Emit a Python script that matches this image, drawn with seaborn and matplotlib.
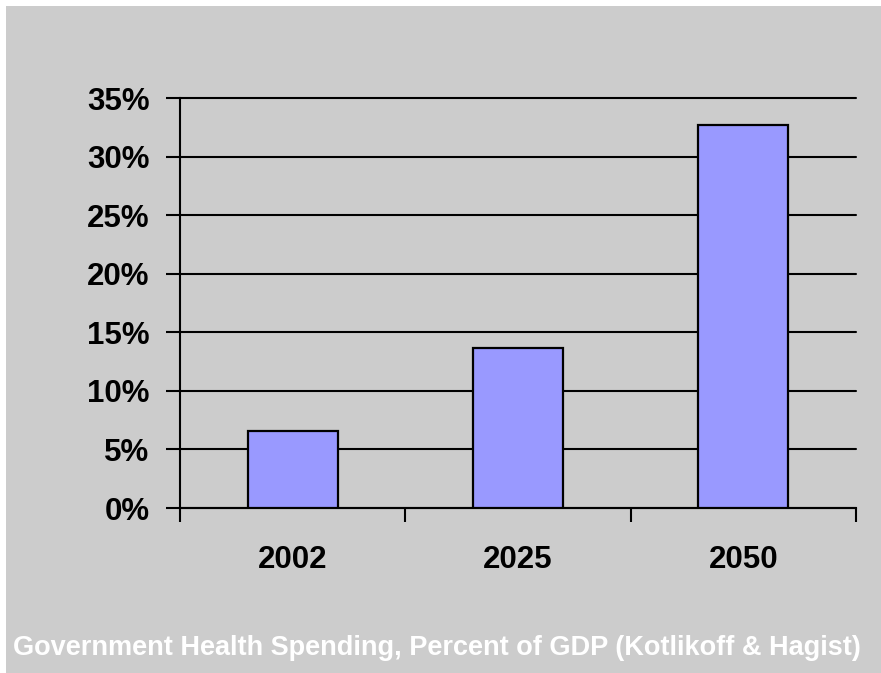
import matplotlib
matplotlib.use("Agg")
import matplotlib.pyplot as plt
from matplotlib.patches import Rectangle
from matplotlib.ticker import FixedLocator, PercentFormatter
import seaborn as sns
import pandas as pd

years = ["2002", "2025", "2050"]
spending_pct = [6.6, 13.7, 32.7]
y_ticks = [0, 5, 10, 15, 20, 25, 30, 35]
title = "Government Health Spending, Percent of GDP (Kotlikoff & Hagist)"

df = pd.DataFrame({"year": years, "pct": spending_pct})

sns.set_theme(style="white")
plt.rcParams["font.family"] = ["Liberation Sans", "DejaVu Sans"]

BG = "#cccccc"
fig = plt.figure(figsize=(8.81, 6.73), dpi=100, facecolor="white")
# grey panel with a thin white margin along the top and left
fig.patches.append(Rectangle((6 / 881, 0), 1 - 6 / 881, 1 - 6 / 673,
                             transform=fig.transFigure, facecolor=BG,
                             edgecolor="none", zorder=-10))

ax = fig.add_axes([180 / 881, 1 - 508 / 673, 676 / 881, 410 / 673])
ax.set_facecolor(BG)

sns.barplot(data=df, x="year", y="pct", color="#9999ff", saturation=1,
            width=0.4, edgecolor="black", linewidth=1.6, ax=ax, zorder=3)

ax.set_xlim(-0.5, 2.5)
ax.set_ylim(0, 35)
ax.set_yticks(y_ticks)
ax.yaxis.set_major_formatter(PercentFormatter(decimals=0))
ax.yaxis.grid(True, color="black", linewidth=1.5, zorder=0)
ax.set_axisbelow(True)
for gl in ax.get_ygridlines():
    gl.set_clip_on(False)

for side in ("top", "right"):
    ax.spines[side].set_visible(False)
for side in ("left", "bottom"):
    ax.spines[side].set_color("black")
    ax.spines[side].set_linewidth(1.5)

ax.xaxis.set_minor_locator(FixedLocator([-0.5, 0.5, 1.5, 2.5]))
ax.tick_params(axis="x", which="major", length=0, pad=26.5, labelsize=22.5,
               labelcolor="black")
ax.tick_params(axis="x", which="minor", bottom=True, length=10, width=1.5,
               color="black", direction="out")
ax.tick_params(axis="y", which="major", left=True, length=10, width=1.5,
               color="black", direction="out", pad=12, labelsize=22.5,
               labelcolor="black")
for lbl in ax.get_xticklabels() + ax.get_yticklabels():
    lbl.set_fontweight("bold")

ax.set_xlabel("")
ax.set_ylabel("")

fig.text(437 / 881, 1 - 648 / 673, title, ha="center", va="center",
         color="white", fontsize=19.5, fontweight="bold")

fig.savefig("out.png", dpi=100, facecolor="white")
